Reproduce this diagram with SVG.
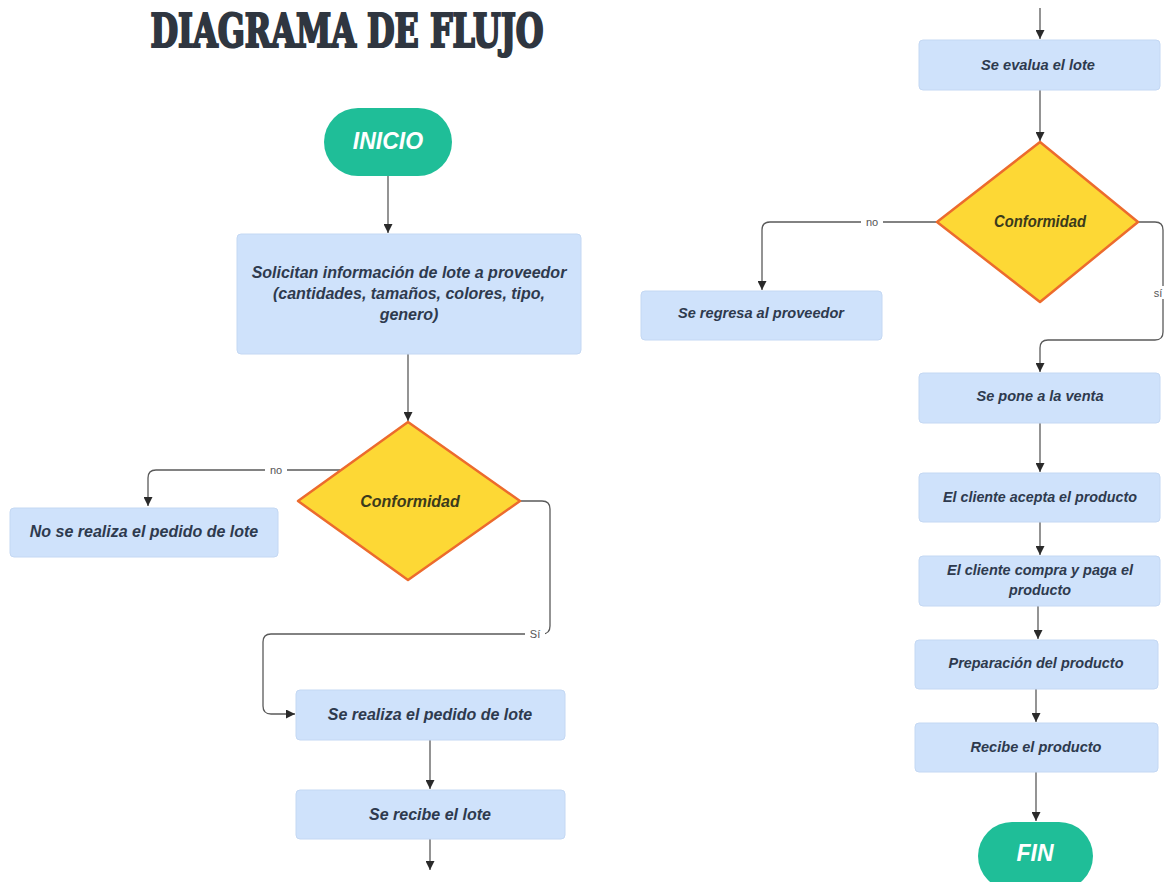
<svg xmlns="http://www.w3.org/2000/svg" width="1164" height="882" viewBox="0 0 1164 882">
<defs>
<style>
.bx{fill:#cfe2fb;stroke:#c4d8f3;stroke-width:1}
.t{font-family:"Liberation Sans",Arial,sans-serif;font-weight:bold;font-style:italic;font-size:16px;fill:#2e3a4e;text-anchor:middle}
.tn{font-family:"Liberation Sans",Arial,sans-serif;font-weight:bold;font-style:italic;font-size:14.5px;fill:#2e3a4e;text-anchor:middle}
.dia{fill:#fdd835;stroke:#ec6b2d;stroke-width:2.5;stroke-linejoin:round}
.dt{font-family:"Liberation Sans",Arial,sans-serif;font-weight:bold;font-style:italic;font-size:16px;fill:#3b3a1c;text-anchor:middle}
.pill{fill:#1fbe98}
.pt{font-family:"Liberation Sans",Arial,sans-serif;font-weight:bold;font-style:italic;font-size:23px;fill:#ffffff;text-anchor:middle}
.ln{fill:none;stroke:#5a5a5a;stroke-width:1.3}
.lb{font-family:"Liberation Sans",Arial,sans-serif;font-size:11px;fill:#555;text-anchor:middle}
</style>
<marker id="ah" viewBox="0 0 10 10" refX="10" refY="5" markerWidth="9" markerHeight="9" markerUnits="userSpaceOnUse" orient="auto">
<path d="M0,0 L10,5 L0,10 z" fill="#2a2a2a"/>
</marker>
</defs>
<rect width="1164" height="882" fill="#ffffff"/>
<text x="347" y="47" font-family="'DejaVu Serif Condensed','DejaVu Serif',serif" font-weight="900" font-size="46" fill="#2f3640" stroke="#2f3640" stroke-width="2.2" stroke-linejoin="miter" text-anchor="middle" textLength="393" lengthAdjust="spacingAndGlyphs">DIAGRAMA DE FLUJO</text>

<g id="connectors">
<path class="ln" marker-end="url(#ah)" d="M388,176 L388,233"/>
<path class="ln" marker-end="url(#ah)" d="M408,354 L408,421"/>
<path class="ln" marker-end="url(#ah)" d="M340,470 L156,470 Q148,470 148,478 L148,506"/>
<path class="ln" marker-end="url(#ah)" d="M520,501 L542,501 Q550,501 550,509 L550,626 Q550,634 542,634 L271,634 Q263,634 263,642 L263,706 Q263,714 271,714 L295,714"/>
<path class="ln" marker-end="url(#ah)" d="M430,740 L430,789"/>
<path class="ln" marker-end="url(#ah)" d="M430,839 L430,870"/>
<path class="ln" marker-end="url(#ah)" d="M1040,8 L1040,39"/>
<path class="ln" marker-end="url(#ah)" d="M1040,90 L1040,141"/>
<path class="ln" marker-end="url(#ah)" d="M937,222 L770,222 Q762,222 762,230 L762,290"/>
<path class="ln" marker-end="url(#ah)" d="M1138,222 L1155,222 Q1163,222 1163,230 L1163,332 Q1163,340 1155,340 L1048,340 Q1040,340 1040,348 L1040,372"/>
<path class="ln" marker-end="url(#ah)" d="M1040,423 L1040,472"/>
<path class="ln" marker-end="url(#ah)" d="M1040,522 L1040,555"/>
<path class="ln" marker-end="url(#ah)" d="M1038,606 L1038,639"/>
<path class="ln" marker-end="url(#ah)" d="M1036,689 L1036,722"/>
<path class="ln" marker-end="url(#ah)" d="M1036,772 L1036,821"/>
<rect x="265" y="463" width="22" height="13" fill="#ffffff"/>
<text class="lb" x="276" y="474">no</text>
<rect x="525" y="627" width="20" height="13" fill="#ffffff"/>
<text class="lb" x="535" y="638">Sí</text>
<rect x="861" y="215" width="22" height="13" fill="#ffffff"/>
<text class="lb" x="872" y="226">no</text>
<rect x="1156" y="286" width="8" height="13" fill="#ffffff"/>
<text class="lb" x="1158" y="297" text-anchor="start">sí</text>
</g>

<g id="inicio">
<rect class="pill" x="324" y="108" width="128" height="68" rx="34"/>
<text class="pt" x="388" y="149">INICIO</text>
</g>
<g id="solicitan">
<rect class="bx" x="237" y="234" width="344" height="120" rx="4"/>
<text class="t" x="409" y="278">Solicitan información de lote a proveedor</text>
<text class="t" x="409" y="299">(cantidades, tamaños, colores, tipo,</text>
<text class="t" x="409" y="320">genero)</text>
</g>
<g id="conformidad1">
<polygon class="dia" points="408,422 520,501 408,580 298,501"/>
<text class="dt" x="410" y="507">Conformidad</text>
</g>
<g id="no-pedido">
<rect class="bx" x="10" y="508" width="268" height="49" rx="4"/>
<text class="t" x="144" y="537">No se realiza el pedido de lote</text>
</g>
<g id="realiza-pedido">
<rect class="bx" x="296" y="690" width="269" height="50" rx="4"/>
<text class="t" x="430" y="720">Se realiza el pedido de lote</text>
</g>
<g id="recibe-lote">
<rect class="bx" x="296" y="790" width="269" height="49" rx="4"/>
<text class="t" x="430" y="820">Se recibe el lote</text>
</g>
<g id="evalua">
<rect class="bx" x="919" y="40" width="241" height="50" rx="4"/>
<text class="tn" x="1038" y="70" textLength="114" lengthAdjust="spacingAndGlyphs">Se evalua el lote</text>
</g>
<g id="conformidad2">
<polygon class="dia" points="1040,142 1138,222 1040,302 937,222"/>
<text class="dt" x="1040" y="227" textLength="92" lengthAdjust="spacingAndGlyphs">Conformidad</text>
</g>
<g id="regresa">
<rect class="bx" x="641" y="291" width="241" height="49" rx="4"/>
<text class="tn" x="761" y="318" textLength="166" lengthAdjust="spacingAndGlyphs">Se regresa al proveedor</text>
</g>
<g id="venta">
<rect class="bx" x="919" y="373" width="241" height="50" rx="4"/>
<text class="tn" x="1040" y="401" textLength="127" lengthAdjust="spacingAndGlyphs">Se pone a la venta</text>
</g>
<g id="acepta">
<rect class="bx" x="919" y="473" width="241" height="49" rx="4"/>
<text class="tn" x="1040" y="502" textLength="194" lengthAdjust="spacingAndGlyphs">El cliente acepta el producto</text>
</g>
<g id="compra">
<rect class="bx" x="919" y="556" width="241" height="50" rx="4"/>
<text class="tn" x="1040" y="575" textLength="186" lengthAdjust="spacingAndGlyphs">El cliente compra y paga el</text>
<text class="tn" x="1040" y="595" textLength="62" lengthAdjust="spacingAndGlyphs">producto</text>
</g>
<g id="preparacion">
<rect class="bx" x="915" y="640" width="243" height="49" rx="4"/>
<text class="tn" x="1036" y="668" textLength="175" lengthAdjust="spacingAndGlyphs">Preparación del producto</text>
</g>
<g id="recibe-producto">
<rect class="bx" x="915" y="723" width="243" height="49" rx="4"/>
<text class="tn" x="1036" y="752" textLength="131" lengthAdjust="spacingAndGlyphs">Recibe el producto</text>
</g>
<g id="fin">
<rect class="pill" x="978" y="822" width="115" height="68" rx="34"/>
<text class="pt" x="1035" y="861">FIN</text>
</g>
</svg>
